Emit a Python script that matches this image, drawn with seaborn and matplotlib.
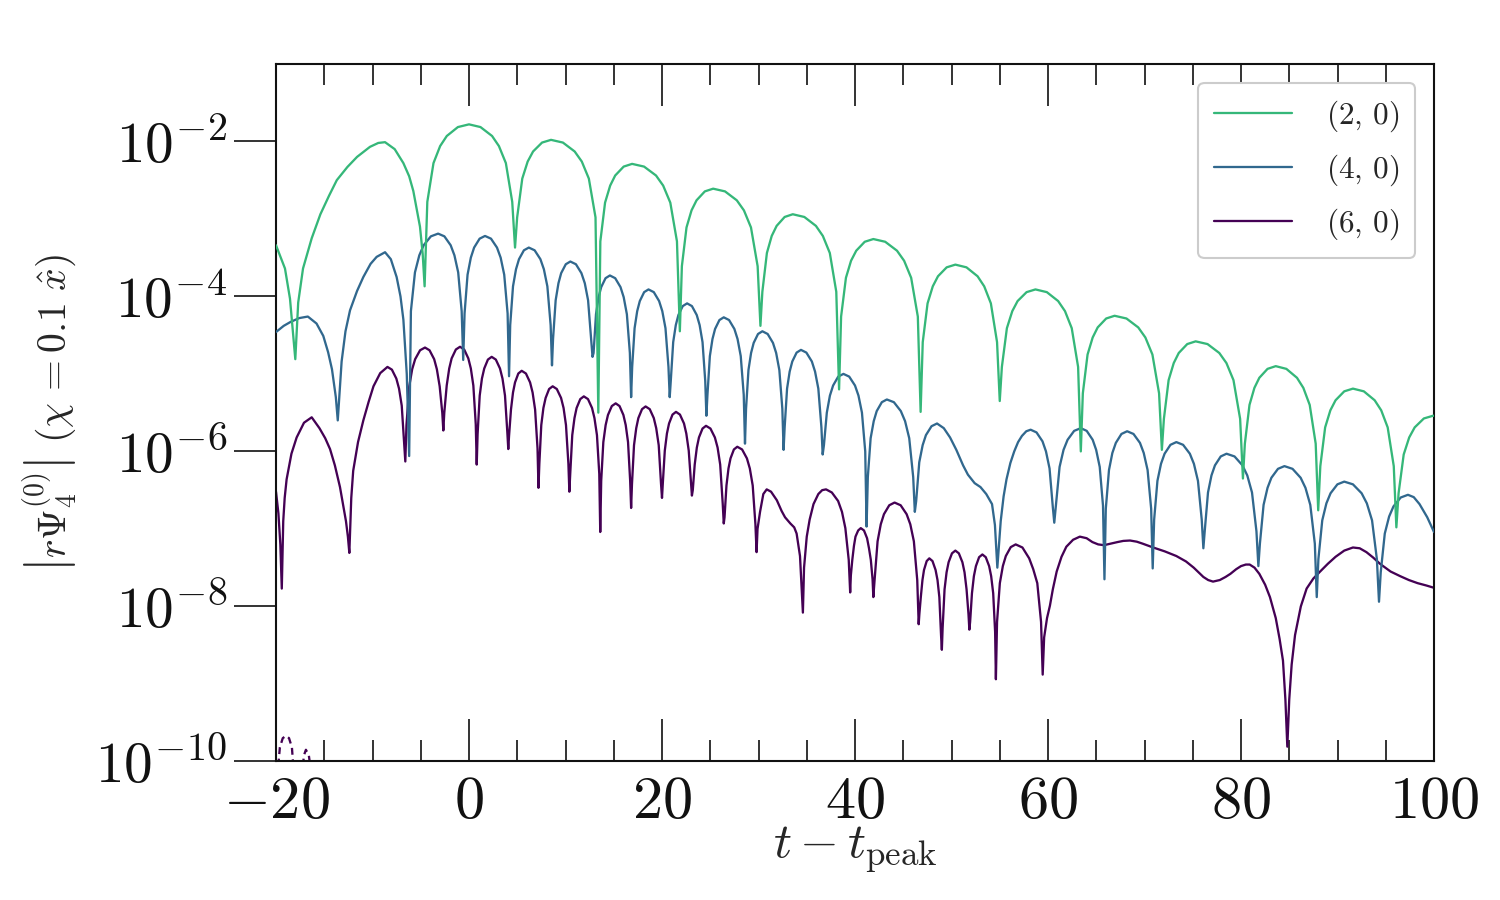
import matplotlib
matplotlib.use("Agg")
import matplotlib.pyplot as plt
import numpy as np
import pandas as pd
import seaborn as sns
from matplotlib.ticker import FixedLocator, FuncFormatter, MultipleLocator, NullLocator

# mode labels and colours (viridis picks)
MODES = ["(2, 0)", "(4, 0)", "(6, 0)"]
LEGEND_LABELS = [r"$(2,\,0)$", r"$(4,\,0)$", r"$(6,\,0)$"]
COLORS = ["#35b779", "#31688e", "#440154"]

# t - t_peak and log10|r Psi_4|, one lobe per line
GREEN_T = [-20.0, -19.07, -18.55, -18.0,
           -17.7, -17.2, -16.3, -15.4, -14.5, -13.7, -12.6, -11.6, -10.26, -9.4, -8.7, -7.7, -6.8, -6.2, -5.77, -5.08, -4.8, -4.6,
           -4.32, -3.68, -2.99, -2.3, -1.15, 0.0, 1.19, 2.39, 3.10, 3.82, 4.48, 4.77,
           4.99, 5.52, 6.08, 6.64, 7.57, 8.5, 9.73, 10.95, 11.69, 12.42, 13.11, 13.4,
           13.61, 14.1, 14.63, 15.15, 16.03, 16.9, 18.14, 19.38, 20.12, 20.86, 21.55, 21.85,
           22.06, 22.54, 23.06, 23.58, 24.44, 25.3, 26.53, 27.75, 28.49, 29.22, 29.91, 30.2,
           30.4, 30.87, 31.37, 31.88, 32.71, 33.55, 34.75, 35.95, 36.67, 37.39, 38.06, 38.35,
           38.56, 39.06, 39.59, 40.13, 41.01, 41.9, 43.13, 44.35, 45.09, 45.82, 46.51, 46.8,
           47.02, 47.52, 48.06, 48.6, 49.5, 50.4, 51.55, 52.7, 53.39, 54.08, 54.72, 55.0,
           55.22, 55.74, 56.3, 56.85, 57.78, 58.7, 59.88, 61.05, 61.76, 62.46, 63.12, 63.4,
           63.61, 64.1, 64.63, 65.15, 66.03, 66.9, 68.13, 69.35, 70.09, 70.82, 71.51, 71.8,
           72.01, 72.5, 73.03, 73.55, 74.43, 75.3, 76.53, 77.75, 78.49, 79.22, 79.91, 80.2,
           80.4, 80.88, 81.39, 81.9, 82.75, 83.6, 84.7, 85.8, 86.46, 87.12, 87.74, 88.0,
           88.22, 88.72, 89.26, 89.8, 90.7, 91.6, 92.73, 93.85, 94.53, 95.2, 95.83, 96.1,
           96.33, 96.86, 97.43, 98.0, 98.95, 99.9, 100.0]
GREEN_LOG = [-3.34, -3.64, -4.03, -4.81,
             -4.08, -3.64, -3.25, -2.94, -2.70, -2.50, -2.33, -2.20, -2.07, -2.02, -2.01, -2.10, -2.28, -2.45, -2.64, -3.10, -3.45, -3.87,
             -2.78, -2.28, -2.06, -1.93, -1.815, -1.78, -1.815, -1.93, -2.06, -2.28, -2.78, -3.37,
             -2.98, -2.48, -2.26, -2.13, -2.015, -1.98, -2.015, -2.13, -2.26, -2.48, -2.98, -5.50,
             -3.29, -2.79, -2.57, -2.44, -2.325, -2.29, -2.325, -2.44, -2.57, -2.79, -3.29, -4.45,
             -3.61, -3.11, -2.89, -2.76, -2.645, -2.61, -2.645, -2.76, -2.89, -3.11, -3.61, -4.38,
             -3.94, -3.44, -3.22, -3.09, -2.975, -2.94, -2.975, -3.09, -3.22, -3.44, -3.94, -5.20,
             -4.26, -3.76, -3.54, -3.41, -3.295, -3.26, -3.295, -3.41, -3.54, -3.76, -4.26, -5.49,
             -4.59, -4.09, -3.87, -3.74, -3.625, -3.59, -3.625, -3.74, -3.87, -4.09, -4.59, -5.35,
             -4.91, -4.41, -4.19, -4.06, -3.945, -3.91, -3.945, -4.06, -4.19, -4.41, -4.91, -6.00,
             -5.25, -4.75, -4.53, -4.40, -4.285, -4.25, -4.285, -4.40, -4.53, -4.75, -5.25, -5.98,
             -5.58, -5.08, -4.86, -4.73, -4.615, -4.58, -4.615, -4.73, -4.86, -5.08, -5.58, -6.35,
             -5.90, -5.40, -5.18, -5.05, -4.935, -4.90, -4.935, -5.05, -5.18, -5.40, -5.90, -6.76,
             -6.19, -5.69, -5.47, -5.34, -5.225, -5.19, -5.225, -5.34, -5.47, -5.69, -6.19, -6.98,
             -6.54, -6.04, -5.82, -5.69, -5.575, -5.54, -5.54]

BLUE_T = [-20.0, -19.2, -18.5, -17.6, -16.7, -15.8, -15.1, -14.6, -14.2, -13.8, -13.6,
          -13.2, -12.8, -12.33, -11.6, -10.95, -10.2, -9.57, -8.7, -8.1, -7.5, -7.1, -6.8, -6.45, -6.2,
          -6.02, -5.6, -5.15, -4.7, -3.95, -3.2, -2.55, -1.9, -1.51, -1.12, -0.76, -0.6,
          -0.46, -0.15, 0.19, 0.53, 1.1, 1.66, 2.28, 2.9, 3.28, 3.65, 4.0, 4.15,
          4.27, 4.56, 4.87, 5.18, 5.69, 6.2, 6.8, 7.4, 7.76, 8.12, 8.46, 8.6,
          8.71, 8.98, 9.27, 9.55, 10.03, 10.5, 11.08, 11.65, 12.0, 12.34, 12.66, 12.8,
          12.91, 13.16, 13.43, 13.7, 14.15, 14.6, 15.15, 15.7, 16.03, 16.36, 16.67, 16.8,
          16.91, 17.16, 17.43, 17.7, 18.15, 18.6, 19.15, 19.7, 20.03, 20.36, 20.67, 20.8,
          20.91, 21.16, 21.43, 21.7, 22.15, 22.6, 23.1, 23.6, 23.9, 24.2, 24.48, 24.6,
          24.71, 24.96, 25.23, 25.5, 25.95, 26.4, 26.95, 27.5, 27.83, 28.16, 28.47, 28.6,
          28.71, 28.96, 29.23, 29.5, 29.95, 30.4, 30.95, 31.5, 31.83, 32.16, 32.47, 32.6,
          32.71, 32.96, 33.23, 33.5, 33.95, 34.4, 34.96, 35.53, 35.86, 36.2, 36.52, 36.65,
          36.78, 37.08, 37.4, 37.73, 38.26, 38.8, 39.4, 40.0, 40.36, 40.72, 41.06, 41.2,
          41.33, 41.62, 41.94, 42.25, 42.78, 43.3, 44.03, 44.75, 45.19, 45.62, 46.03, 46.2,
          46.34, 46.66, 47.01, 47.35, 47.93, 48.5, 49.2, 49.85, 50.5, 51.2, 51.7, 52.4, 53.0, 53.6, 54.2, 54.5, 54.75,
          55.1, 55.4, 55.7, 56.1, 56.5, 56.9, 57.3, 57.75, 58.2, 58.81, 59.43, 59.79, 60.16, 60.5, 60.65,
          60.82, 61.2, 61.61, 62.03, 62.71, 63.4, 64.01, 64.63, 64.99, 65.36, 65.7, 65.85,
          65.99, 66.32, 66.67, 67.03, 67.61, 68.2, 68.86, 69.53, 69.92, 70.32, 70.69, 70.85,
          71.0, 71.34, 71.71, 72.08, 72.69, 73.3, 74.0, 74.7, 75.12, 75.54, 75.93, 76.1,
          76.24, 76.58, 76.94, 77.3, 77.9, 78.5, 79.33, 80.15, 80.65, 81.14, 81.6, 81.8,
          81.96, 82.34, 82.75, 83.15, 83.83, 84.5, 85.34, 86.18, 86.68, 87.18, 87.65, 87.85,
          88.02, 88.42, 88.85, 89.28, 89.99, 90.7, 91.6, 92.5, 93.04, 93.58, 94.08, 94.3,
          94.48, 94.9, 95.35, 95.8, 96.55, 97.3, 97.9, 98.5, 99.3, 100.0]
BLUE_LOG = [-4.46, -4.38, -4.33, -4.28, -4.26, -4.35, -4.51, -4.72, -4.94, -5.30, -5.60,
            -4.84, -4.45, -4.18, -3.93, -3.75, -3.58, -3.49, -3.43, -3.52, -3.75, -4.00, -4.30, -5.00, -6.06,
            -4.19, -3.69, -3.47, -3.34, -3.225, -3.19, -3.225, -3.34, -3.47, -3.69, -4.19, -4.82,
            -4.22, -3.72, -3.50, -3.37, -3.255, -3.22, -3.255, -3.37, -3.50, -3.72, -4.22, -5.03,
            -4.37, -3.87, -3.65, -3.52, -3.405, -3.37, -3.405, -3.52, -3.65, -3.87, -4.37, -4.89,
            -4.55, -4.05, -3.83, -3.70, -3.585, -3.55, -3.585, -3.70, -3.83, -4.05, -4.55, -4.78,
            -4.73, -4.23, -4.01, -3.88, -3.765, -3.73, -3.765, -3.88, -4.01, -4.23, -4.73, -5.30,
            -4.91, -4.41, -4.19, -4.06, -3.945, -3.91, -3.945, -4.06, -4.19, -4.41, -4.91, -5.30,
            -5.09, -4.59, -4.37, -4.24, -4.125, -4.09, -4.125, -4.24, -4.37, -4.59, -5.09, -5.54,
            -5.27, -4.77, -4.55, -4.42, -4.305, -4.27, -4.305, -4.42, -4.55, -4.77, -5.27, -5.90,
            -5.45, -4.95, -4.73, -4.60, -4.485, -4.45, -4.485, -4.60, -4.73, -4.95, -5.45, -5.98,
            -5.69, -5.19, -4.97, -4.84, -4.725, -4.69, -4.725, -4.84, -4.97, -5.19, -5.69, -6.04,
            -5.92, -5.50, -5.28, -5.15, -5.035, -5.00, -5.035, -5.15, -5.28, -5.50, -6.00, -6.97,
            -6.33, -5.83, -5.61, -5.48, -5.365, -5.33, -5.365, -5.48, -5.61, -5.83, -6.33, -6.78,
            -6.64, -6.14, -5.92, -5.79, -5.675, -5.64, -5.70, -5.82, -5.98, -6.18, -6.30, -6.41, -6.46, -6.55, -6.68, -6.95, -7.50,
            -6.90, -6.58, -6.36, -6.15, -6.00, -5.88, -5.80, -5.74, -5.72, -5.755, -5.87, -6.00, -6.22, -6.72, -6.92,
            -6.70, -6.20, -5.98, -5.85, -5.735, -5.70, -5.735, -5.85, -5.98, -6.20, -6.70, -7.65,
            -6.74, -6.24, -6.02, -5.89, -5.775, -5.74, -5.775, -5.89, -6.02, -6.24, -6.74, -7.51,
            -6.88, -6.38, -6.16, -6.03, -5.915, -5.88, -5.915, -6.03, -6.16, -6.38, -6.88, -7.25,
            -7.03, -6.53, -6.31, -6.18, -6.065, -6.03, -6.065, -6.18, -6.31, -6.53, -7.03, -7.48,
            -7.19, -6.69, -6.47, -6.34, -6.225, -6.19, -6.225, -6.34, -6.47, -6.69, -7.19, -7.88,
            -7.39, -6.89, -6.67, -6.54, -6.425, -6.39, -6.425, -6.54, -6.67, -6.89, -7.39, -7.94,
            -7.56, -7.06, -6.84, -6.71, -6.595, -6.56, -6.59, -6.68, -6.85, -7.04]

PURPLE_T = [-20.0, -19.75, -19.55, -19.4,
            -19.25, -19.1, -18.9, -18.4, -17.86, -17.1, -16.3, -15.5, -14.9, -14.4, -13.9, -13.37, -12.75, -12.55, -12.4,
            -12.2, -12.0, -11.5, -10.95, -10.4, -9.9, -9.2, -8.45, -7.99, -7.53, -7.25, -6.97, -6.71, -6.6,
            -6.48, -6.19, -5.89, -5.58, -5.07, -4.56, -4.09, -3.61, -3.33, -3.04, -2.77, -2.66,
            -2.56, -2.31, -2.05, -1.8, -1.36, -0.93, -0.5, -0.07, 0.19, 0.45, 0.7, 0.8,
            0.89, 1.11, 1.34, 1.58, 1.96, 2.35, 2.78, 3.21, 3.47, 3.73, 3.97, 4.07,
            4.15, 4.35, 4.56, 4.77, 5.11, 5.46, 5.9, 6.33, 6.59, 6.85, 7.1, 7.2,
            7.29, 7.49, 7.71, 7.94, 8.3, 8.67, 9.1, 9.54, 9.8, 10.05, 10.3, 10.4,
            10.49, 10.7, 10.93, 11.15, 11.53, 11.9, 12.33, 12.75, 13.0, 13.26, 13.5, 13.6,
            13.7, 13.92, 14.16, 14.4, 14.8, 15.2, 15.6, 16.0, 16.24, 16.48, 16.7, 16.8,
            16.89, 17.1, 17.33, 17.55, 17.93, 18.3, 18.73, 19.15, 19.4, 19.66, 19.9, 20.0,
            20.09, 20.29, 20.51, 20.73, 21.09, 21.45, 21.86, 22.28, 22.52, 22.77, 23.0, 23.1,
            23.19, 23.39, 23.61, 23.83, 24.2, 24.56, 25.02, 25.48, 25.76, 26.03, 26.29, 26.4,
            26.48, 26.68, 26.89, 27.1, 27.45, 27.8, 28.3, 28.8, 29.1, 29.4, 29.68, 29.8,
            29.9, 30.16, 30.5, 30.85, 31.3, 31.9, 32.4, 32.75, 33.3, 33.7, 33.95, 34.3, 34.6,
            34.72, 35.0, 35.3, 35.7, 36.2, 36.6, 37.0, 37.6, 38.25, 38.65, 39.0, 39.35, 39.5,
            39.57, 39.72, 39.89, 40.05, 40.33, 40.6, 40.93, 41.25, 41.45, 41.64, 41.82, 41.9,
            42.03, 42.34, 42.67, 43.0, 43.55, 44.1, 44.73, 45.35, 45.73, 46.1, 46.45, 46.6,
            46.67, 46.82, 46.99, 47.15, 47.43, 47.7, 48.03, 48.35, 48.55, 48.74, 48.92, 49.0,
            49.08, 49.28, 49.49, 49.7, 50.05, 50.4, 50.76, 51.13, 51.35, 51.56, 51.76, 51.85,
            51.93, 52.12, 52.32, 52.53, 52.86, 53.2, 53.55, 53.9, 54.11, 54.32, 54.52, 54.6,
            54.72, 55.01, 55.32, 55.63, 56.14, 56.65, 57.35, 58.05, 58.47, 58.89, 59.28, 59.45,
            59.6, 59.9, 60.2, 60.5, 60.9,
            61.4, 61.9, 62.6, 63.3, 64.0,
            64.6, 65.2, 65.8, 66.5, 67.2,
            67.8, 68.5, 69.2, 69.8, 70.9,
            72.1, 73.3, 74.3, 75.1, 75.6,
            76.1, 76.6, 77.1, 77.8, 78.4,
            78.9, 79.5, 80.0, 80.5, 80.9,
            81.4, 81.9, 82.5, 83.0, 83.6,
            84.0, 84.35, 84.6, 84.8, 85.0,
            85.25, 85.6, 86.2, 86.8, 87.5,
            88.2, 89.0, 89.8, 90.7, 91.6,
            92.3, 93.0, 93.7, 94.4, 95.5,
            96.5, 97.4, 98.3, 99.2, 100.0]
PURPLE_LOG = [-6.52, -6.80, -7.20, -7.77,
              -6.90, -6.60, -6.36, -6.03, -5.82, -5.63, -5.56, -5.70, -5.83, -5.97, -6.18, -6.46, -6.90, -7.10, -7.31,
              -6.60, -6.25, -5.88, -5.60, -5.36, -5.16, -4.99, -4.91, -4.945, -5.06, -5.19, -5.41, -5.91, -6.13,
              -5.66, -5.16, -4.94, -4.81, -4.695, -4.66, -4.695, -4.81, -4.94, -5.16, -5.50, -5.73,
              -5.50, -5.15, -4.93, -4.80, -4.685, -4.65, -4.685, -4.80, -4.93, -5.15, -5.65, -6.17,
              -5.78, -5.28, -5.06, -4.93, -4.815, -4.78, -4.815, -4.93, -5.06, -5.28, -5.75, -5.97,
              -5.80, -5.46, -5.24, -5.11, -4.995, -4.96, -4.995, -5.11, -5.24, -5.46, -5.96, -6.47,
              -6.16, -5.66, -5.44, -5.31, -5.195, -5.16, -5.195, -5.31, -5.44, -5.66, -6.16, -6.52,
              -6.29, -5.79, -5.57, -5.44, -5.325, -5.29, -5.325, -5.44, -5.57, -5.79, -6.29, -7.04,
              -6.38, -5.88, -5.66, -5.53, -5.415, -5.38, -5.415, -5.53, -5.66, -5.88, -6.38, -6.73,
              -6.42, -5.92, -5.70, -5.57, -5.455, -5.42, -5.455, -5.57, -5.70, -5.92, -6.42, -6.60,
              -6.40, -5.99, -5.77, -5.64, -5.525, -5.49, -5.525, -5.64, -5.77, -5.99, -6.40, -6.57,
              -6.50, -6.17, -5.95, -5.82, -5.705, -5.67, -5.705, -5.82, -5.95, -6.17, -6.67, -6.93,
              -6.85, -6.44, -6.22, -6.09, -5.975, -5.94, -5.975, -6.09, -6.22, -6.44, -6.94, -7.30,
              -7.00, -6.78, -6.55, -6.49, -6.52, -6.63, -6.77, -6.85, -6.93, -6.98, -7.06, -7.35, -8.08,
              -7.50, -7.10, -6.88, -6.68, -6.55, -6.50, -6.49, -6.53, -6.64, -6.78, -6.99, -7.40, -7.82,
              -7.60, -7.40, -7.22, -7.10, -7.02, -6.99, -7.02, -7.12, -7.25, -7.40, -7.65, -7.88,
              -7.66, -7.16, -6.94, -6.81, -6.695, -6.66, -6.695, -6.81, -6.94, -7.16, -7.66, -8.23,
              -8.10, -7.88, -7.66, -7.53, -7.415, -7.38, -7.415, -7.53, -7.66, -7.88, -8.38, -8.56,
              -8.28, -7.78, -7.56, -7.43, -7.315, -7.28, -7.315, -7.43, -7.56, -7.78, -8.10, -8.30,
              -8.20, -7.83, -7.61, -7.48, -7.365, -7.33, -7.365, -7.48, -7.61, -7.83, -8.33, -8.94,
              -8.20, -7.70, -7.48, -7.35, -7.235, -7.20, -7.24, -7.38, -7.52, -7.70, -8.20, -8.88,
              -8.40, -8.15, -7.99, -7.78, -7.55,
              -7.36, -7.23, -7.14, -7.10, -7.12,
              -7.17, -7.20, -7.21, -7.19, -7.17,
              -7.155, -7.15, -7.165, -7.19, -7.24,
              -7.29, -7.35, -7.42, -7.50, -7.56,
              -7.62, -7.66, -7.68, -7.66, -7.62,
              -7.58, -7.52, -7.48, -7.46, -7.46,
              -7.50, -7.58, -7.72, -7.88, -8.15,
              -8.42, -8.70, -9.20, -9.81, -9.20,
              -8.75, -8.37, -8.00, -7.77, -7.64,
              -7.55, -7.45, -7.36, -7.28, -7.24,
              -7.25, -7.30, -7.37, -7.45, -7.55,
              -7.61, -7.66, -7.70, -7.73, -7.76]

# the dashed (6, 0) bumps sitting on the bottom edge
DASH_T = [-19.87, -19.6, -19.3, -18.96, -18.65, -18.35, -18.13,
          -17.34, -17.1, -16.9, -16.6, -16.3]
DASH_LOG = [-10.2, -9.82, -9.70, -9.67, -9.70, -9.82, -10.2,
            -10.2, -9.92, -9.85, -9.92, -10.2]
DASH_ARC = [0, 0, 0, 0, 0, 0, 0, 1, 1, 1, 1, 1]

X_MAJOR = 20
X_MINOR = 5
Y_TICKS = [1e-10, 1e-8, 1e-6, 1e-4, 1e-2]


def main() -> None:
    frames = []
    for mode, t, lg in zip(MODES, [GREEN_T, BLUE_T, PURPLE_T], [GREEN_LOG, BLUE_LOG, PURPLE_LOG]):
        assert len(t) == len(lg), (mode, len(t), len(lg))
        frames.append(pd.DataFrame({"t": t, "amp": 10.0 ** np.asarray(lg), "mode": mode}))
    df = pd.concat(frames, ignore_index=True)
    dash = pd.DataFrame({"t": DASH_T, "amp": 10.0 ** np.asarray(DASH_LOG), "arc": DASH_ARC})

    sns.set_theme(style="ticks", context="paper")
    plt.rcParams["font.family"] = ["DejaVu Serif"]
    plt.rcParams["mathtext.fontset"] = "cm"

    fig, ax = plt.subplots(figsize=(10, 6), dpi=150)
    fig.subplots_adjust(left=0.184, right=0.956, bottom=0.154, top=0.929)

    # purple underneath, green on top
    for mode, label, color, z in reversed(list(zip(MODES, LEGEND_LABELS, COLORS, [4, 3, 2]))):
        sns.lineplot(
            data=df[df["mode"] == mode], x="t", y="amp", ax=ax, color=color,
            lw=1.1, estimator=None, sort=False, label=label, zorder=z,
        )
    sns.lineplot(
        data=dash, x="t", y="amp", units="arc", estimator=None, sort=False, ax=ax,
        color=COLORS[2], lw=1.1, ls=(0, (3.0, 2.0)), legend=False, zorder=2,
    )

    ax.set_yscale("log")
    ax.set_xlim(-20, 100)
    ax.set_ylim(1e-10, 1e-1)

    ax.xaxis.set_major_locator(MultipleLocator(X_MAJOR))
    ax.xaxis.set_minor_locator(MultipleLocator(X_MINOR))
    ax.xaxis.set_major_formatter(FuncFormatter(lambda v, p: rf"${v:.0f}$"))
    ax.yaxis.set_major_locator(FixedLocator(Y_TICKS))
    ax.yaxis.set_minor_locator(NullLocator())
    ax.yaxis.set_major_formatter(FuncFormatter(lambda v, p: rf"$10^{{{int(round(np.log10(v)))}}}$"))

    ax.tick_params(axis="x", which="both", direction="in", top=True, bottom=True, width=0.8, colors="#111111")
    ax.tick_params(axis="x", which="major", length=20, labelsize=29, pad=5)
    ax.tick_params(axis="x", which="minor", length=10)
    ax.tick_params(axis="y", which="major", direction="out", left=True, right=False,
                   length=20, width=0.8, labelsize=27.5, pad=3.5, colors="#111111")
    for spine in ax.spines.values():
        spine.set_linewidth(1.0)
        spine.set_color("#111111")

    ax.set_xlabel(r"$t - t_{\rm peak}$", fontsize=24)
    ax.set_ylabel(r"$\left|r\Psi_4^{(0)}\right|\ (\chi\,=\!\,0.1\ \hat{x})$", fontsize=19)
    ax.xaxis.set_label_coords(0.5, -0.09)
    ax.yaxis.set_label_coords(-0.17, 0.5)

    handles, labels = ax.get_legend_handles_labels()
    leg = ax.legend(
        handles[::-1], labels[::-1], loc="upper right", fontsize=15, frameon=True,
        fancybox=True, framealpha=1.0, edgecolor="#cccccc", handlelength=2.5,
        handletextpad=1.1, labelspacing=0.6, borderpad=0.5, borderaxespad=0.6,
    )
    leg.get_frame().set_linewidth(1.0)

    fig.savefig("out.png", dpi=150)
    plt.close(fig)


if __name__ == "__main__":
    main()
